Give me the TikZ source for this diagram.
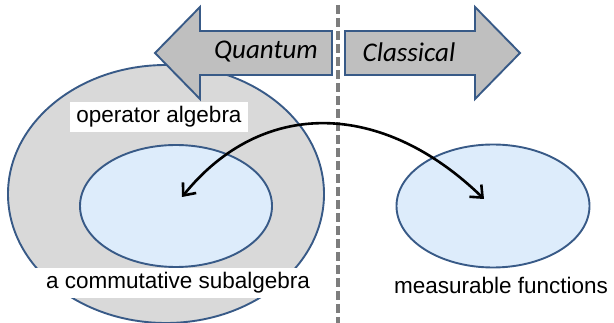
\documentclass[tikz,border=0pt]{standalone}
\usepackage{fontspec}
\setmainfont{Liberation Sans}
\newfontfamily\headfont{Carlito}
\usetikzlibrary{arrows.meta,shapes.geometric}

\definecolor{edgeblue}{RGB}{56,90,135}
\definecolor{paleblue}{RGB}{221,236,251}
\definecolor{setgray}{RGB}{217,217,217}
\definecolor{headgray}{RGB}{191,191,191}
\definecolor{sepgray}{RGB}{125,125,125}

\begin{document}
\begin{tikzpicture}[
    x=1pt, y=-1pt,
    outerset/.style={ellipse, draw=edgeblue, line width=1.9pt, fill=setgray, inner sep=0pt},
    innerset/.style={ellipse, draw=edgeblue, line width=1.9pt, fill=paleblue, inner sep=0pt},
    bigarrow/.style={draw=edgeblue, line width=1.9pt, fill=headgray, line join=miter},
    head/.style={font=\headfont\itshape\fontsize{27}{30}\selectfont},
    setname/.style={font=\fontsize{22.5}{26}\selectfont, inner xsep=6pt, inner ysep=5pt},
    link/.style={{Straight Barb[length=10pt,width=17pt]}-{Straight Barb[length=10pt,width=17pt]}, line width=2.6pt}
]
\useasboundingbox (0,0) rectangle (614,323);

% the sets
\node[outerset, minimum width=316pt, minimum height=258pt] (opalg) at (166,194) {};
\node[innerset, minimum width=192pt, minimum height=122pt] (commalg) at (176,206) {};
\node[innerset, minimum width=193pt, minimum height=123pt] (funcs) at (493,206) {};

\node[setname, fill=white] (opname) at (159,117) {operator algebra};
\node[setname, fill=white, minimum width=290pt] (commname) at (178,283) {a commutative subalgebra};
\node[setname] (funcname) at (501,285) {measurable functions};

% the two directions
\draw[bigarrow] (332,31) -- (200,31) -- (200,7) -- (155,53) -- (200,99) -- (200,75) -- (332,75) -- cycle;
\draw[bigarrow] (345,31) -- (475,31) -- (475,7) -- (520,53) -- (475,99) -- (475,75) -- (345,75) -- cycle;
\node[head] (quantum) at (266,52) {Quantum};
\node[head] (classical) at (409,52) {Classical};

% separation
\coordinate (septop) at (338,5);
\coordinate (sepbot) at (338,323);
\draw[sepgray, line width=4.5pt, dash pattern=on 9pt off 4pt] (septop) -- (sepbot);

% correspondence
\coordinate (qend) at (182,197);
\coordinate (cend) at (484,199);
\draw[link] (qend) .. controls (262,98) and (382,100) .. (cend);
\end{tikzpicture}
\end{document}
